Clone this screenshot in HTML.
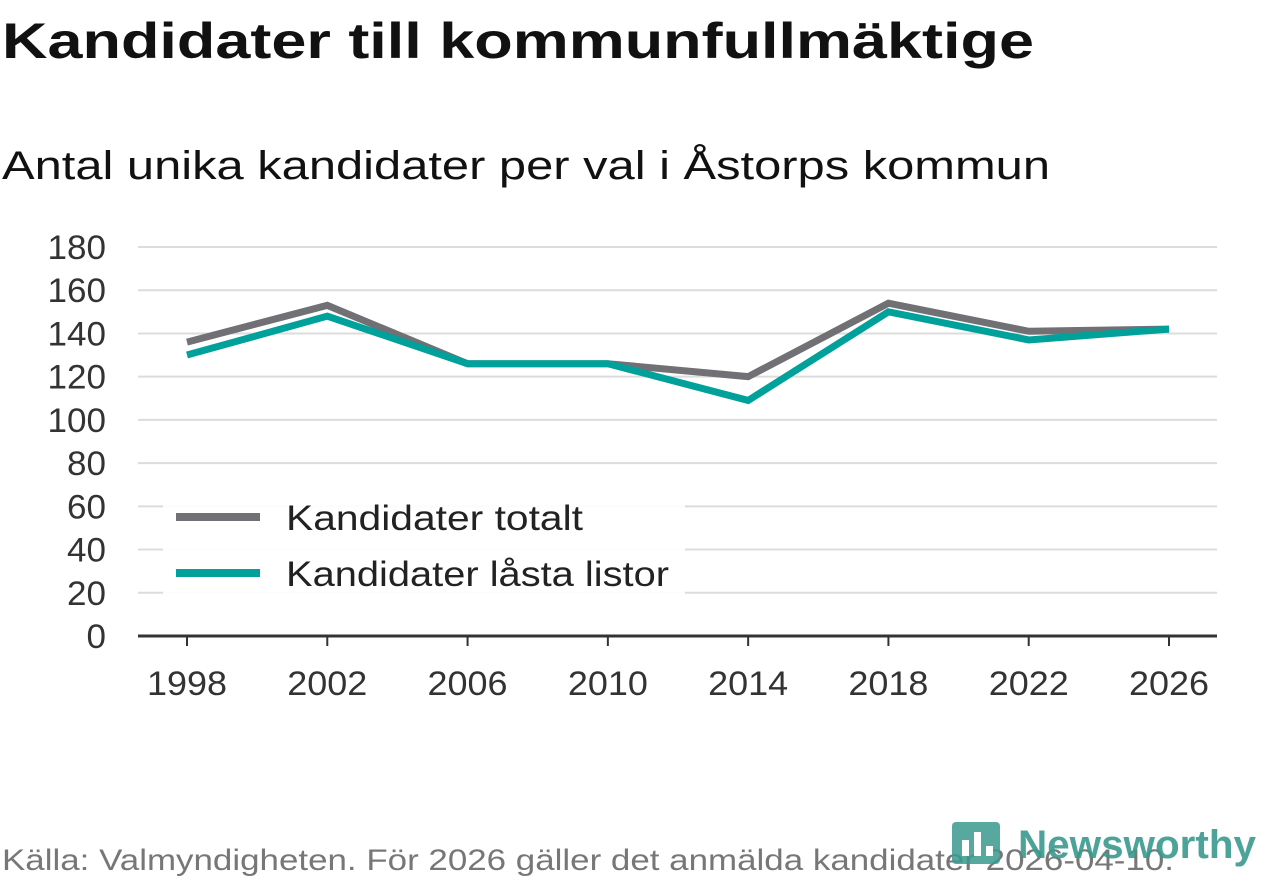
<!DOCTYPE html>
<html><head><meta charset="utf-8"><style>
body{margin:0;background:#fff;width:1262px;height:879px;overflow:hidden}
svg text{font-family:"Liberation Sans","DejaVu Sans",sans-serif}
</style></head><body>
<svg id="c" width="1262" height="879">
<text x="2" y="58" font-size="50" font-weight="bold" fill="#111" textLength="1032" lengthAdjust="spacingAndGlyphs">Kandidater till kommunfullmäktige</text>
<text x="2" y="179" font-size="40" fill="#111" textLength="1048" lengthAdjust="spacingAndGlyphs">Antal unika kandidater per val i Åstorps kommun</text>
<g id="grid"></g><g id="xt"></g><g id="lines"></g>
<g>
<rect x="163" y="492" width="522" height="108" fill="#fff" opacity="0.9"/>
<line x1="176" y1="517" x2="260" y2="517" stroke="#707075" stroke-width="8"/>
<text x="286" y="530" font-size="35" fill="#222" textLength="297" lengthAdjust="spacingAndGlyphs">Kandidater totalt</text>
<line x1="176" y1="573" x2="260" y2="573" stroke="#00a19a" stroke-width="8"/>
<text x="286" y="586" font-size="35" fill="#222" textLength="383" lengthAdjust="spacingAndGlyphs">Kandidater låsta listor</text>
</g>
<text x="2" y="870" font-size="30" fill="#777" textLength="1172" lengthAdjust="spacingAndGlyphs">Källa: Valmyndigheten. För 2026 gäller det anmälda kandidater 2026-04-10.</text>
<g>
<rect x="952" y="822" width="48" height="42" rx="4" fill="#3a9a8e" opacity="0.85"/>
<rect x="962" y="840" width="7" height="16" fill="#fff"/><rect x="974" y="832" width="7" height="24" fill="#fff"/><rect x="986" y="846" width="7" height="10" fill="#fff"/>
<text x="1018" y="858" font-size="40" font-weight="bold" fill="#3a9a8e" opacity="0.9" textLength="238" lengthAdjust="spacingAndGlyphs">Newsworthy</text>
</g>
</svg>
<script>
const years=[1998,2002,2006,2010,2014,2018,2022,2026];
const totalt=[136,153,126,126,120,154,141,142];
const lasta=[130,148,126,126,109,150,137,142];
const yTicks=[0,20,40,60,80,100,120,140,160,180];
const NS='http://www.w3.org/2000/svg';
const x=v=>187+(v-1998)*(1169-187)/28;
const y=v=>636-v*(636-247)/180;
function mk(t,a,p){const e=document.createElementNS(NS,t);for(const k in a)e.setAttribute(k,a[k]);p.appendChild(e);return e;}
const g=document.getElementById('grid');
yTicks.forEach(t=>{
 if(t>0){const l=mk('line',{x1:138,x2:1217,y1:y(t),y2:y(t),stroke:'#dcdcdc','stroke-width':2},g);
 
 }
 const s=String(t);
 const tx=mk('text',{x:106,y:y(t)+12,'font-size':34,fill:'#333','text-anchor':'end',textLength:s.length*19.5,lengthAdjust:'spacingAndGlyphs'},g);tx.textContent=s;
 
 
});
const ax=mk('line',{x1:138,x2:1217,y1:636,y2:636,stroke:'#333','stroke-width':3},g);


const xt=document.getElementById('xt');
years.forEach(v=>{
 mk('line',{x1:x(v),x2:x(v),y1:636,y2:646,stroke:'#333','stroke-width':2},xt);
 const t=mk('text',{x:x(v),y:695,'font-size':34,fill:'#333','text-anchor':'middle',textLength:80,lengthAdjust:'spacingAndGlyphs'},xt);t.textContent=v;
 
 
});
const L=document.getElementById('lines');
[[totalt,'#707075','line-totalt'],[lasta,'#00a19a','line-lasta']].forEach(([d,c,n])=>{
 const p=mk('polyline',{points:d.map((v,i)=>x(years[i])+','+y(v)).join(' '),fill:'none',stroke:c,'stroke-width':7,'stroke-linejoin':'miter'},L);
 
 
});
</script>
</body></html>
